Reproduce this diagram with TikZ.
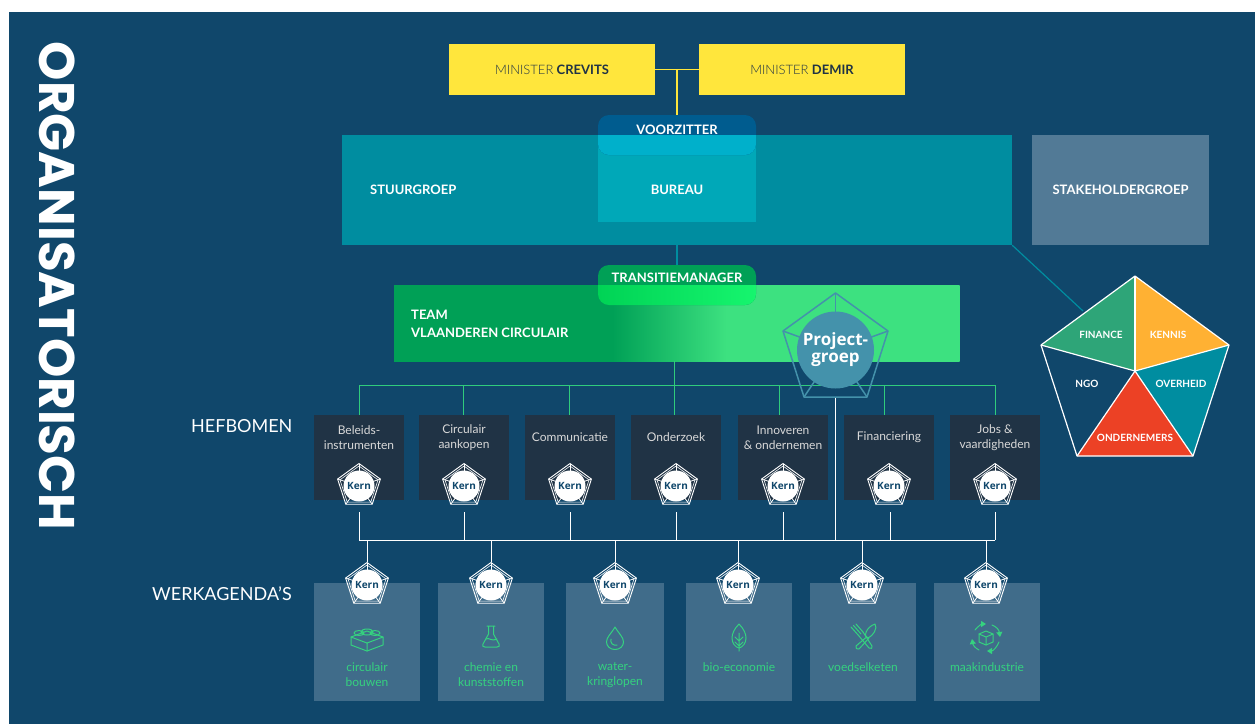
\documentclass[tikz,border=0pt]{standalone}
\usepackage{fontspec}
\setmainfont{Lato}
\newfontfamily\kernfont{Open Sans}
\newfontfamily\titelfont{Poppins}
\newfontfamily\lichtfont{Lato Light}
\usetikzlibrary{arrows.meta}
\definecolor{navy}{HTML}{10476B}
\definecolor{minister}{HTML}{FFE63C}
\definecolor{stuur}{HTML}{008DA0}
\definecolor{bureau}{HTML}{00A8B8}
\definecolor{voorzitter}{HTML}{005C8F}
\definecolor{voorzitterb}{HTML}{00B0CB}
\definecolor{stake}{HTML}{527A96}
\definecolor{teamdark}{HTML}{00A056}
\definecolor{teamlight}{HTML}{3DE180}
\definecolor{transitiea}{HTML}{00D355}
\definecolor{transitieb}{HTML}{16F56E}
\definecolor{hefboom}{HTML}{203345}
\definecolor{agenda}{HTML}{406C8A}
\definecolor{lijngroen}{HTML}{30CC7C}
\definecolor{groen}{HTML}{35D27F}
\definecolor{project}{HTML}{4492AB}
\definecolor{finance}{HTML}{2EA578}
\definecolor{kennis}{HTML}{FFB133}
\definecolor{ondernemers}{HTML}{EC4125}
\pgfdeclarehorizontalshading{teamshade}{100bp}{color(0bp)=(teamdark); color(44.3bp)=(teamdark); color(54.4bp)=(teamlight); color(100bp)=(teamlight)}
\tikzset{
  vak/.style={inner sep=0pt,font=\fontsize{13}{16}\selectfont\bfseries,text=white,align=center},
  ministerbox/.style={fill=minister,minimum width=206,minimum height=51,inner sep=0pt,font=\fontsize{13}{16}\selectfont,text=hefboom},
  hefboom/.style={fill=hefboom,minimum width=90,minimum height=85,anchor=north west,inner sep=0pt},
  hefboomtekst/.style={text=white!85!black,font=\fontsize{12}{15}\selectfont,align=center,inner sep=0pt},
  agenda/.style={fill=agenda,minimum height=118,anchor=north west,inner sep=0pt},
  agendatekst/.style={text=groen,font=\fontsize{12}{15}\selectfont,align=center,inner sep=0pt},
  titel/.style={text=white,font=\fontsize{18}{20}\selectfont,inner sep=0pt},
  stuk/.style={text=white,font=\fontsize{10}{12}\selectfont\bfseries,inner sep=0pt},
  groenlijn/.style={lijngroen,line width=1.3pt},
  icoon/.style={draw=groen,line width=1pt,line join=round,line cap=round},
  kern/.pic={
    \foreach \h in {-90,-162,-234,-306,-18}{\draw[white,line width=.8pt] (0,0) -- (\h:22.5);}
    \draw[white,line width=.9pt,line join=round] (-90:22.5) -- (-162:22.5) -- (-234:22.5) -- (-306:22.5) -- (-18:22.5) -- cycle;
    \draw[white,line width=.6pt,line join=round] (-90:20) -- (-162:20) -- (-234:20) -- (-306:20) -- (-18:20) -- cycle;
    \fill[white] (0,0) circle (15.5);
    \node[text=navy,font=\kernfont\fontsize{10}{12}\selectfont\bfseries,inner sep=0pt] at (0,0) {Kern};
  }
}
\begin{document}
\begin{tikzpicture}[x=1pt,y=-1pt]
\useasboundingbox (0,0) rectangle (1255,724);
\fill[navy] (9,12) rectangle (1255,724);
\node[rotate=-90,text=white,font=\titelfont\fontsize{50}{54}\selectfont\bfseries,inner sep=0pt] (titel) at (57,286) {ORGANISATORISCH};

% bovenaan
\node[ministerbox] (crevits) at (552,69.5) {{\lichtfont MINISTER} \textbf{CREVITS}};
\node[ministerbox] (demir) at (802,69.5) {{\lichtfont MINISTER} \textbf{DEMIR}};
\node[fill=stuur,minimum width=670,minimum height=110,inner sep=0pt] (stuurgroep) at (677,190) {};
\node[fill=bureau,minimum width=158,minimum height=82,inner sep=0pt] (bureau) at (677,181) {};
\node[fill=stake,minimum width=177,minimum height=110,inner sep=0pt] (stakeholder) at (1120.5,190) {};
\coordinate (midden) at (677,70);
\coordinate (voorzittertop) at (677,115);
\draw[minister,line width=1.8pt] (crevits) -- (demir);
\draw[minister,line width=1.8pt] (midden) -- (voorzittertop);
\fill[voorzitter,rounded corners=11] (598,115) rectangle (756,155);
\begin{scope}
\clip (598,135) rectangle (756,155);
\fill[voorzitterb,rounded corners=11] (598,115) rectangle (756,155);
\end{scope}
\node[vak] (voorzitterlabel) at (677,129.5) {VOORZITTER};
\node[vak,anchor=west] (stuurlabel) at (370,190) {STUURGROEP};
\node[vak] (bureaulabel) at (677,190) {BUREAU};
\node[vak] (stakelabel) at (1120.5,190) {STAKEHOLDERGROEP};

% team
\node[shading=teamshade,minimum width=565.5,minimum height=76,inner sep=0pt] (team) at (676.75,323) {};
\coordinate (transitietop) at (677,265);
\draw[stuur,line width=1.3pt] (stuurgroep) -- (transitietop);
\fill[teamdark,rounded corners=11] (598,265) rectangle (756,305);
\begin{scope}
\clip (598,285) rectangle (756,305);
\shade[left color=transitiea,right color=transitieb,rounded corners=11] (598,265) rectangle (756,305);
\end{scope}
\node[vak] (transitie) at (677,277.5) {TRANSITIEMANAGER};
\node[vak,anchor=north west,align=left,font=\fontsize{13}{18}\selectfont\bfseries] (teamlabel) at (411,310) {TEAM\\VLAANDEREN CIRCULAIR};

% hefbomen
\coordinate (groenlinks) at (359,385.5);
\coordinate (groenrechts) at (995.5,385.5);
\coordinate (teamonder) at (674.5,361);
\coordinate (teamlijn) at (674.5,385.5);
\draw[groenlijn] (groenlinks) -- (groenrechts);
\draw[groenlijn] (teamonder) -- (teamlijn);
\foreach \x/\g/\w/\naam/\tekst in {314/359.5/359/beleid/Beleids-\\instrumenten,419/463.5/464/aankopen/Circulair\\aankopen,525/569.5/570.5/communicatie/Communicatie,631/674.5/676/onderzoek/Onderzoek,738/779.5/783.5/innoveren/Innoveren\\\& ondernemen,844/884.5/890/financiering/Financiering,950/995.5/995/jobs/Jobs \&\\vaardigheden}{
  \node[hefboom] (\naam) at (\x,415) {};
  \node[hefboomtekst] (\naam-t) at (\x+45,437.5) {\tekst};
  \draw[groenlijn] (\g,385) -- (\g,415);
  \draw[white,line width=.9pt] (\w,512) -- (\w,540);
  \pic at (\x+45,486) {kern};
}
\coordinate (witlinks) at (359,540);
\coordinate (witrechts) at (995,540);
\draw[white,line width=.9pt] (witlinks) -- (witrechts);

% werkagenda's
\foreach \x/\b/\naam/\tekst in {314/106/bouwen/circulair\\bouwen,438/106/chemie/chemie en\\kunststoffen,566/98/water/water-\\kringlopen,686/106/bio/bio-economie,810/106/voedsel/voedselketen,934/106/maak/maakindustrie}{
  \node[agenda,minimum width=\b] (\naam) at (\x,583) {};
  \node[agendatekst,anchor=north] (\naam-t) at (\x+\b/2,662.5) {\tekst};
}
\foreach \x in {367,491,615,738,862,986}{
  \draw[white,line width=.9pt] (\x,540) -- (\x,562);
  \pic at (\x,585) {kern};
}

% iconen
\begin{scope}[icoon]
  % blokje
  \draw (351,637) -- (367,631) -- (383,637) -- (383,645) -- (367,651) -- (351,645) -- cycle;
  \draw (351,637) -- (367,643) -- (383,637) (367,643) -- (367,651);
  \draw (367,632) ellipse (6 and 3) (359,633) ellipse (5 and 2.5) (375,633) ellipse (5 and 2.5);
  % kolf
  \draw (487,626) -- (495,626) (488.5,626) -- (488.5,634) -- (483,644) .. controls (482,646) and (483,647) .. (485,647) -- (497,647) .. controls (499,647) and (500,646) .. (499,644) -- (493.5,634) -- (493.5,626);
  \draw (486,639) .. controls (489,637) and (492,642) .. (497,639);
  % druppel
  \draw (615,627) .. controls (611,634) and (606.5,637) .. (606.5,642) .. controls (606.5,646) and (610,649.5) .. (615,649.5) .. controls (620,649.5) and (623.5,646) .. (623.5,642) .. controls (623.5,637) and (619,634) .. (615,627) -- cycle;
  \draw (611,639) .. controls (610,643) and (613,646) .. (617,645);
  % blad
  \draw (739,624) .. controls (734,629) and (732,634) .. (732,638) .. controls (732,643) and (735,647) .. (739,648) .. controls (743,647) and (746,643) .. (746,638) .. controls (746,634) and (744,629) .. (739,624) -- cycle;
  \draw (739,633) -- (739,651) (735,637) -- (739,641) -- (743,637) (735,642) -- (739,646) -- (743,642);
  % bestek
  \draw (851,627) -- (859,636) (853.5,625.5) -- (861,634) (856,624) -- (863,632);
  \draw (859,636) -- (869,648) .. controls (871,649.5) and (873,648) .. (872,646) -- (863,632);
  \draw (875,624) .. controls (878,628) and (873,636) .. (868,638) .. controls (863,637) and (866,627) .. (875,624) -- cycle;
  \draw (866,637.5) -- (856,646) .. controls (855,648) and (857,650) .. (859,649) -- (869,638);
  % kubus in kringloop
  \draw (986,631) -- (993,634) -- (993,642) -- (986,645) -- (979,642) -- (979,634) -- cycle;
  \draw (979,634) -- (986,637) -- (993,634) (986,637) -- (986,645);
  \draw[-{Triangle[length=5,width=6]}] (975,630) .. controls (978,626) and (982,624) .. (986,624);
  \draw[-{Triangle[length=5,width=6]}] (992,625) .. controls (997,627) and (999,630) .. (1000,637);
  \draw[-{Triangle[length=5,width=6]}] (999,642) .. controls (997,647) and (993,651) .. (987,651);
  \draw[-{Triangle[length=5,width=6]}] (979,650) .. controls (975,648) and (973,645) .. (972,639);
\end{scope}

% labels links
\node[titel,anchor=west] (hefbomen) at (191,426) {HEFBOMEN};
\node[titel,anchor=west] (werkagendas) at (152,594) {WERKAGENDA'S};

% projectgroep
\coordinate (gtop) at (835.5,293);
\coordinate (gleft) at (783,331);
\coordinate (gbl) at (804,397);
\coordinate (gbr) at (867,397);
\coordinate (gright) at (888,331);
\coordinate (gmid) at (835.5,350);
\coordinate (gonder) at (835.5,397);
\coordinate (gwit) at (835.5,540);
\draw[white,line width=1pt] (gonder) -- (gwit);
\foreach \p in {gtop,gleft,gbl,gbr,gright}{\draw[project,line width=1.5pt] (gmid) -- (\p);}
\draw[project,line width=1.5pt,line join=round] (gtop) -- (gleft) -- (gbl) -- (gbr) -- (gright) -- cycle;
\node[circle,fill=project,minimum size=77,inner sep=0pt,text=white,align=center,font=\kernfont\fontsize{17}{17}\selectfont\bfseries] (projectgroep) at (gmid) {Project-\\groep};

% vijfhoek
\coordinate (ptop) at (1135,276);
\coordinate (pleft) at (1041,345);
\coordinate (pbl) at (1077,456);
\coordinate (pbr) at (1193,456);
\coordinate (pright) at (1229,345);
\coordinate (pmid) at (1135,371);
\coordinate (plijn) at (1083,311);
\draw[stuur,line width=1.2pt] (stuurgroep.south east) -- (plijn);
\fill[finance] (ptop) -- (pleft) -- (pmid) -- cycle;
\fill[kennis] (ptop) -- (pright) -- (pmid) -- cycle;
\fill[stuur] (pright) -- (pbr) -- (pmid) -- cycle;
\fill[ondernemers] (pbl) -- (pbr) -- (pmid) -- cycle;
\draw[white,line width=1.2pt,line join=round] (ptop) -- (pleft) -- (pbl) -- (pbr) -- (pright) -- cycle;
\foreach \p in {ptop,pleft,pbl,pbr,pright}{\draw[white,line width=1.2pt] (pmid) -- (\p);}
\node[stuk] (finance) at (1101,334.5) {FINANCE};
\node[stuk] (kennis) at (1168,334.5) {KENNIS};
\node[stuk] (ngo) at (1087,383.5) {NGO};
\node[stuk] (overheid) at (1181,383.5) {OVERHEID};
\node[stuk] (ondernemerslabel) at (1135,437.5) {ONDERNEMERS};
\end{tikzpicture}
\end{document}
